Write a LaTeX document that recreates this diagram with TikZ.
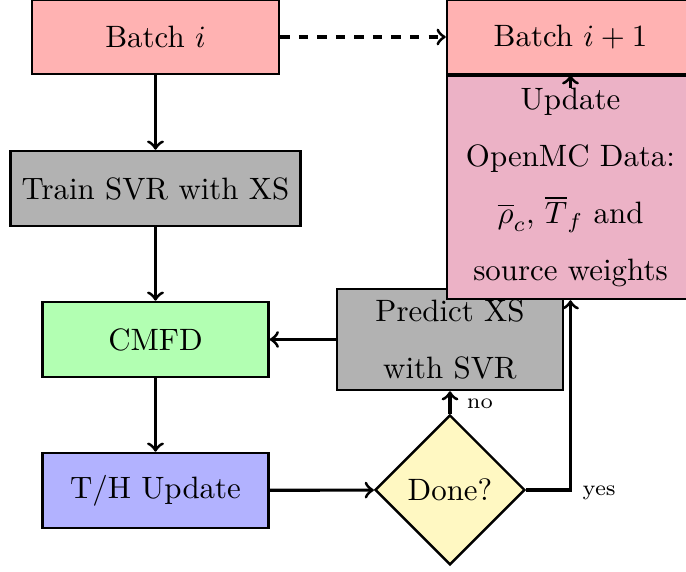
\documentclass[tikz,border=0pt]{standalone}
\usetikzlibrary{shapes.geometric}
% one drawing unit = one pixel of the intended image
\def\PX{0.3236pt}
\definecolor{doneyellow}{RGB}{255,248,194}
\begin{document}
\begin{tikzpicture}[x=0.3236pt,y=-0.3236pt,
  box/.style={draw, thick, rectangle, inner sep=0pt, align=center},
  flow/.style={->, line width=1pt},
  tag/.style={font=\scriptsize, inner sep=0pt}]
\useasboundingbox (0,0) rectangle (686,572);

% main column
\node[box, fill=red!30, minimum width=247*\PX, minimum height=74*\PX] (bi) at (155.5,37) {Batch $i$};
\node[box, fill=black!30, minimum width=290*\PX, minimum height=75*\PX] (train) at (155.5,188.5) {Train SVR with XS};
\node[box, fill=green!30, minimum width=226*\PX, minimum height=75*\PX] (cmfd) at (155.5,339.5) {CMFD};
\node[box, fill=blue!30, minimum width=226*\PX, minimum height=75*\PX] (th) at (155.5,490.5) {T/H Update};

% decision and feedback
\node[draw, thick, diamond, aspect=1, inner sep=0pt, fill=doneyellow,
      minimum width=150*\PX, minimum height=150*\PX] (done) at (450,490) {Done?};
\node[box, fill=black!30, minimum width=226*\PX, minimum height=101*\PX] (pred) at (450,339.5)
  {Predict XS\\[6.4pt] with SVR};

% right column
\node[box, fill=red!30, minimum width=247*\PX, minimum height=74*\PX] (bnext) at (570.5,37) {Batch $i+1$};
\node[box, fill=purple!30, minimum width=247*\PX, minimum height=223*\PX] (upd) at (570.5,187.5)
  {Update\\[6.4pt] OpenMC Data:\\[6.4pt] $\overline{\rho}_c$, $\overline{T}_f$ and\\[6.4pt] source weights};

% connectors
\draw[flow] (bi) -- (train);
\draw[flow] (train) -- (cmfd);
\draw[flow] (cmfd) -- (th);
\draw[flow] (th) -- (done);
\draw[flow] (done.north) -- (pred.south) node[tag, pos=0.45, right=5pt] {no};
\draw[flow] (pred.west) -- (cmfd.east);
\draw[flow] (done.east) -| (upd.south) node[tag, pos=0.0, xshift=73*\PX, yshift=-1pt] {yes};
\draw[flow] ([yshift=-13*\PX]upd.north) -- (bnext.south);
\draw[flow, dashed] (bi.east) -- (bnext.west);
\end{tikzpicture}
\end{document}
